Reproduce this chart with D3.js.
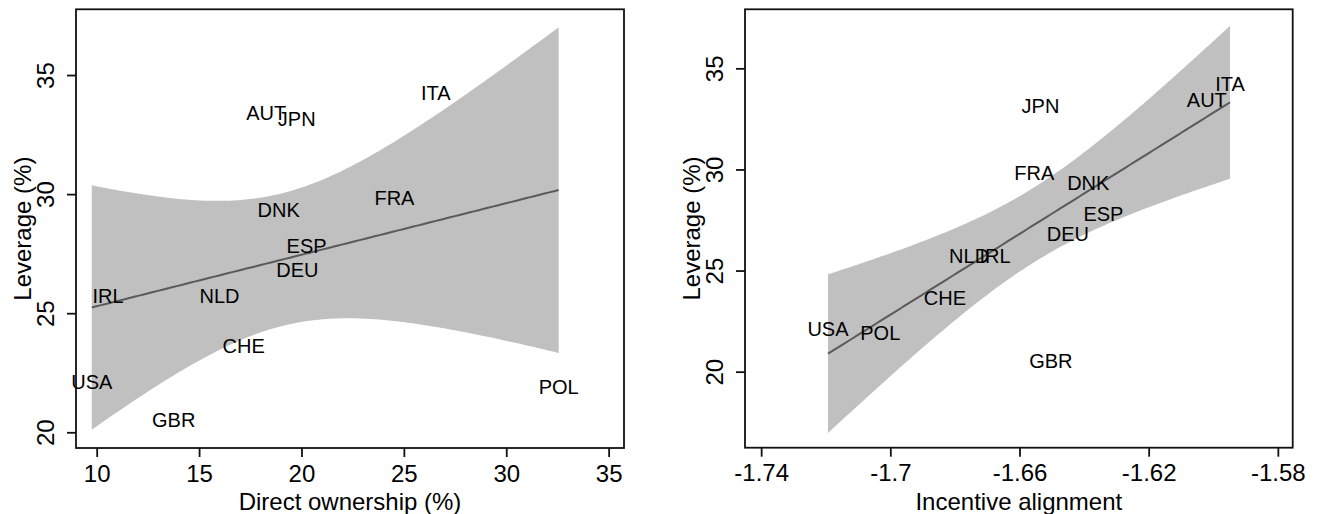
<!DOCTYPE html>
<html>
<head>
<meta charset="utf-8">
<script src="https://cdn.jsdelivr.net/npm/d3@7"></script>
<style>
  html, body { margin: 0; padding: 0; background: #fff; }
  svg { display: block; }
  text { font-family: "Liberation Sans", Arial, Helvetica, sans-serif; fill: #000; }
</style>
</head>
<body>
<svg id="chart" width="1317" height="514"></svg>
<script>
// ---------------- data ----------------
const countries = ["AUT","JPN","DNK","ESP","DEU","IRL","NLD","CHE","USA","GBR","ITA","FRA","POL"];
const leverage = [33.42,33.15,29.35,27.83,26.81,25.73,25.73,23.63,22.11,20.52,34.26,29.83,21.92];
const directOwnership = [18.28,19.77,18.89,20.25,19.80,10.55,16.00,17.18,9.76,13.76,26.56,24.54,32.56];
const incentiveAlignment = [-1.6020,-1.6535,-1.6387,-1.6340,-1.6450,-1.6676,-1.6756,-1.6831,-1.7193,-1.6503,-1.5948,-1.6554,-1.7031];

const leftXTicks = [10,15,20,25,30,35];
const leftXTickLabels = ["10","15","20","25","30","35"];
const rightXTicks = [-1.74,-1.70,-1.66,-1.62,-1.58];
const rightXTickLabels = ["-1.74","-1.7","-1.66","-1.62","-1.58"];
const yTicks = [20,25,30,35];
const yTickLabels = ["20","25","30","35"];

const leftXRange = [8.99, 35.75];
const leftYRange = [19.34, 37.76];
const rightXRange = [-1.745, -1.5754];
const rightYRange = [16.24, 37.92];

const xTitles = ["Direct ownership (%)", "Incentive alignment"];
const yTitle = "Leverage (%)";

// ---------------- helpers ----------------
const svg = d3.select("#chart");
const T975_DF11 = 2.200985;

function olsBand(xs, ys, nPts) {
  const n = xs.length;
  const xbar = d3.mean(xs), ybar = d3.mean(ys);
  let sxx = 0, sxy = 0, syy = 0;
  for (let i = 0; i < n; i++) {
    sxx += (xs[i]-xbar)**2; sxy += (xs[i]-xbar)*(ys[i]-ybar); syy += (ys[i]-ybar)**2;
  }
  const b = sxy / sxx, a = ybar - b*xbar;
  const s = Math.sqrt((syy - b*sxy) / (n-2));
  const [lo, hi] = d3.extent(xs);
  const pts = [];
  for (let k = 0; k < nPts; k++) {
    const x = lo + (hi-lo)*k/(nPts-1);
    const yh = a + b*x;
    const se = s*Math.sqrt(1/n + (x-xbar)**2/sxx);
    pts.push({x, y: yh, lo: yh - T975_DF11*se, hi: yh + T975_DF11*se});
  }
  return pts;
}

function panel(cfg) {
  const {left, right, top, bottom, xs, xRange, yRange, xTicks, xTickLabels, xTitle} = cfg;
  const x = d3.scaleLinear().domain(xRange).range([left, right]);
  const y = d3.scaleLinear().domain(yRange).range([bottom, top]);
  const g = svg.append("g");

  // CI band + fit
  const band = olsBand(xs, leverage, 100);
  g.append("path").datum(band)
    .attr("d", d3.area().x(d => x(d.x)).y0(d => y(d.lo)).y1(d => y(d.hi)))
    .attr("fill", "#c0c0c0").attr("stroke", "none");
  g.append("path").datum(band)
    .attr("d", d3.line().x(d => x(d.x)).y(d => y(d.y)))
    .attr("fill", "none").attr("stroke", "#5a5a5a").attr("stroke-width", 2);

  // labels
  g.selectAll("text.lab").data(countries).join("text")
    .attr("class","lab")
    .attr("x", (d,i) => x(xs[i]))
    .attr("y", (d,i) => y(leverage[i]))
    .attr("dy", "0.36em")
    .attr("text-anchor", "middle")
    .attr("font-size", 20)
    .text(d => d);

  // frame
  g.append("rect")
    .attr("x", left).attr("y", top)
    .attr("width", right-left).attr("height", bottom-top)
    .attr("fill", "none").attr("stroke", "#111").attr("stroke-width", 1.8);

  // x axis
  const xa = g.append("g").attr("transform", `translate(0,${bottom})`)
    .call(d3.axisBottom(x).tickValues(xTicks).tickSize(9).tickFormat((d,i) => xTickLabels[i]));
  xa.select(".domain").remove();
  xa.selectAll(".tick line").attr("stroke", "#111").attr("stroke-width", 1.8);
  xa.selectAll(".tick text").attr("y", 25.3).attr("dy", "0.35em")
    .attr("font-size", 24).attr("font-family", "Liberation Sans, Arial, sans-serif").attr("fill", "#000");

  // y axis
  const ya = g.append("g").attr("transform", `translate(${left},0)`)
    .call(d3.axisLeft(y).tickValues(yTicks).tickSize(9).tickFormat((d,i) => yTickLabels[i]));
  ya.select(".domain").remove();
  ya.selectAll(".tick line").attr("stroke", "#111").attr("stroke-width", 1.8);
  ya.selectAll(".tick text")
    .attr("x", 0).attr("dy", "0.35em")
    .attr("transform", "translate(-30,0) rotate(-90)")
    .attr("text-anchor", "middle")
    .attr("font-size", 24).attr("font-family", "Liberation Sans, Arial, sans-serif").attr("fill", "#000");

  // titles
  g.append("text")
    .attr("x", (left+right)/2).attr("y", bottom + 53.7).attr("dy", "0.35em")
    .attr("text-anchor", "middle").attr("font-size", 24).text(xTitle);
  g.append("text")
    .attr("transform", `translate(${left-53.5},${(top+bottom)/2}) rotate(-90)`)
    .attr("dy", "0.35em")
    .attr("text-anchor", "middle").attr("font-size", 24).text(yTitle);
}

panel({left: 76, right: 624, top: 9.3, bottom: 448, xs: directOwnership,
       xRange: leftXRange, yRange: leftYRange, xTicks: leftXTicks, xTickLabels: leftXTickLabels, xTitle: xTitles[0]});
panel({left: 745, right: 1292.7, top: 9.3, bottom: 447.7, xs: incentiveAlignment,
       xRange: rightXRange, yRange: rightYRange, xTicks: rightXTicks, xTickLabels: rightXTickLabels, xTitle: xTitles[1]});
</script>
</body>
</html>
